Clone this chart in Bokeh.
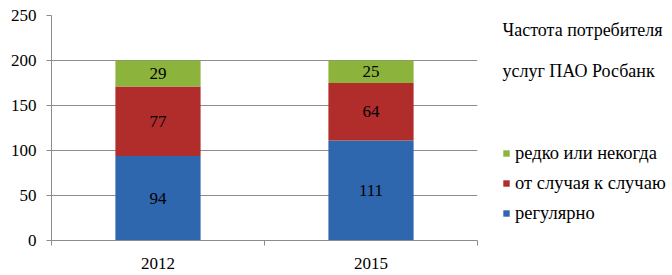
from bokeh.plotting import figure
from bokeh.layouts import row
from bokeh.models import (ColumnDataSource, Range1d, LinearAxis,
                          FixedTicker, LabelSet, Label, Legend, LegendItem)
from bokeh.embed import file_html
from bokeh.resources import INLINE

years = ["2012", "2015"]
regular = [94, 111]
occasional = [77, 64]
rarely = [29, 25]
series_names = ["регулярно", "от случая к случаю", "редко или некогда"]
title_lines = ["Частота потребителя", "услуг  ПАО Росбанк"]
y_ticks = [0, 50, 100, 150, 200, 250]

colors = ["#2E67AE", "#B12D2B", "#8CB43C"]
keys = ["regular", "occasional", "rarely"]
FONT = "'Liberation Serif', 'Times New Roman', serif"
GRID = "#8c8c8c"

pos = [i + 0.5 for i in range(len(years))]
source = ColumnDataSource(dict(pos=pos, years=years, regular=regular, occasional=occasional, rarely=rarely))

p = figure(width=490, height=275, x_range=Range1d(0, len(years)), y_range=Range1d(0, 250),
           output_backend="svg", toolbar_location=None, x_axis_location=None,
           min_border_left=51, min_border_right=13, min_border_top=15, min_border_bottom=35)
p.outline_line_color = None
p.background_fill_color = "white"

renderers = p.vbar_stack(keys, x="pos", width=0.4, source=source, color=colors, line_color=None)

# x axis: boundary ticks (minor) + year labels (major)
xaxis = LinearAxis(ticker=FixedTicker(ticks=pos, minor_ticks=list(range(len(years) + 1))),
                   axis_line_color=GRID, major_tick_line_color=None,
                   minor_tick_line_color=GRID, minor_tick_out=5, minor_tick_in=0,
                   major_tick_out=0, major_tick_in=0,
                   major_label_overrides={pv: y for pv, y in zip(pos, years)},
                   major_label_text_font=FONT, major_label_text_font_size="17px",
                   major_label_text_color="black", major_label_standoff=12)
p.add_layout(xaxis, "below")

p.yaxis.ticker = FixedTicker(ticks=y_ticks)
p.yaxis.axis_line_color = GRID
p.yaxis.major_tick_line_color = GRID
p.yaxis.major_tick_out = 5
p.yaxis.major_tick_in = 0
p.yaxis.minor_tick_line_color = None
p.yaxis.major_label_text_font = FONT
p.yaxis.major_label_text_font_size = "17px"
p.yaxis.major_label_text_color = "black"
p.yaxis.major_label_standoff = 10
p.ygrid.grid_line_color = GRID
p.ygrid.ticker = FixedTicker(ticks=y_ticks)
p.xgrid.grid_line_color = None

# value labels at segment middles
lx, ly, lt = [], [], []
for i in range(len(years)):
    base = 0
    for vals in [regular, occasional, rarely]:
        v = vals[i]
        lx.append(pos[i])
        ly.append(base + v / 2)
        lt.append(str(v))
        base += v
lsrc = ColumnDataSource(dict(x=lx, y=ly, t=lt))
p.add_layout(LabelSet(x="x", y="y", text="t", source=lsrc, text_align="center", text_baseline="middle",
                      text_font=FONT, text_font_size="17px", text_color="black"))

# side panel with title lines and legend (frame aligned with main plot frame: canvas y 15..240)
s = figure(width=182, height=275, x_range=Range1d(0, 182), y_range=Range1d(240, 15), title=None,
           output_backend="svg", toolbar_location=None, x_axis_location=None, y_axis_location=None,
           min_border=0)
s.outline_line_color = None
s.xgrid.grid_line_color = None
s.ygrid.grid_line_color = None

for j, line in enumerate(title_lines):
    s.add_layout(Label(x=12, y=29 + j * 41, text=line,
                       text_font=FONT, text_font_size="18px", text_color="black",
                       text_baseline="middle"))

# invisible proxies carrying the series colours for the legend
proxies = [s.vbar(x="pos", top=k, width=0.4, source=source, color=c, line_color=None, visible=False)
           for k, c in zip(keys, colors)]
items = [LegendItem(label=series_names[i], renderers=[proxies[i]]) for i in (2, 1, 0)]
legend = Legend(items=items, location=(12, 16), orientation="vertical", click_policy="none",
                label_text_font=FONT, label_text_font_size="18.5px", label_text_color="black",
                glyph_width=8, glyph_height=8, label_height=22, spacing=8, label_standoff=5,
                padding=0, margin=0, border_line_color=None, background_fill_alpha=0,
                inactive_fill_alpha=0)
s.add_layout(legend, "center")

layout = row(p, s, spacing=0)
open("out.html", "w").write(file_html(layout, INLINE))
